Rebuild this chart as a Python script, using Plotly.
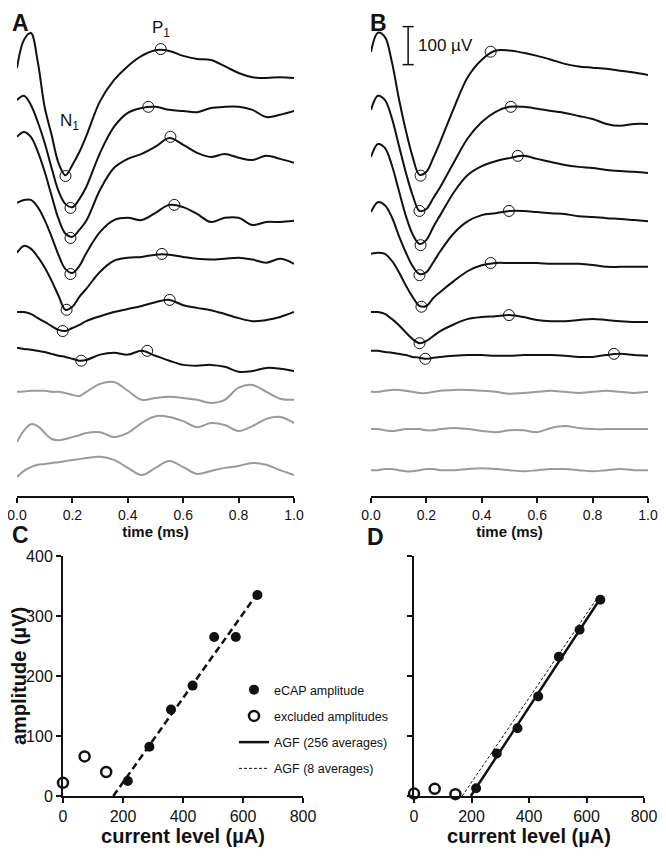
import numpy as np
import plotly.graph_objects as go

FONT = "Liberation Sans, Arial, Helvetica, sans-serif"
BLACK = "#111111"
GREY = "#9a9a9a"

# ---- sweeps (panels A and B) -------------------------------------------------
# common time base (ms); every sweep is given in µV relative to its first sample
T_MS = [0, 0.025, 0.05, 0.075, 0.1, 0.125, 0.15, 0.175, 0.2, 0.225, 0.25,
        0.3, 0.35, 0.4, 0.45, 0.5, 0.55, 0.6, 0.65, 0.7, 0.75, 0.8, 0.85, 0.9, 0.95, 1.0]

# panel A: 8 averages, one sweep per current level (µA), highest level on top
A_648 = [0, 74, 92, 16, -103, -176, -250, -282, -255, -221, -179, -87, -32, 5, 32, 47, 45, 32, 24, 21, 5, -13, -24, -26, -24, -26]
A_576 = [0, 11, -13, -58, -113, -179, -240, -274, -282, -261, -229, -139, -71, -34, -21, -18, -26, -29, -32, -21, -18, -18, -26, -45, -39, -29]
A_504 = [0, 13, 0, -39, -92, -155, -216, -255, -263, -245, -221, -139, -82, -58, -45, -26, -3, -21, -42, -53, -45, -55, -61, -50, -58, -68]
A_432 = [0, 8, 8, -11, -45, -89, -137, -174, -184, -166, -132, -76, -45, -39, -45, -26, -5, -11, -29, -50, -39, -39, -58, -50, -50, -47]
A_360 = [0, 18, 11, -11, -39, -74, -113, -150, -142, -116, -95, -50, -21, -13, -11, -5, -5, -11, -16, -18, -16, -13, -18, -26, -16, -29]
A_288 = [0, 0, -5, -16, -26, -37, -47, -50, -42, -34, -24, -11, 0, 8, 16, 26, 32, 18, 11, 5, -5, -16, -24, -21, -13, 0]
A_216 = [0, -3, -5, -8, -11, -16, -21, -24, -29, -34, -32, -18, -13, -18, -8, -21, -34, -45, -47, -45, -50, -63, -61, -53, -55, -61]
A_144 = [0, 1, 3, 3, 3, 0, 0, -3, -8, -11, 0, 21, 26, 3, -21, -16, -13, -16, -21, -29, -21, 11, 18, 0, -18, -21]
A_72 = [0, 30, 47, 42, 24, 8, 5, 8, 13, 18, 24, 26, 13, 24, 50, 68, 66, 55, 39, 50, 45, 29, 42, 61, 66, 50]
A_0 = [0, 16, 26, 32, 34, 37, 39, 42, 45, 47, 50, 53, 45, 24, 5, 24, 42, 26, 8, 16, 24, 29, 37, 32, 18, 5]
A_OFFSET_UV = [1126, 1042, 945, 771, 640, 484, 390, 274, 142, 50]

# panel B: 256 averages
B_648 = [0, 50, 39, -26, -121, -205, -276, -324, -316, -279, -237, -147, -66, -21, 3, 3, -3, -11, -21, -32, -39, -42, -45, -50, -55, -61]
B_576 = [0, 37, 26, -21, -92, -163, -224, -266, -261, -232, -203, -137, -74, -32, -5, 8, 8, 3, -3, -8, -16, -24, -37, -42, -37, -37]
B_504 = [0, 34, 24, -21, -87, -153, -203, -229, -218, -184, -153, -92, -47, -24, -11, -3, 3, -5, -13, -21, -26, -29, -34, -37, -39, -42]
B_432 = [0, 26, 18, -13, -61, -105, -142, -163, -158, -132, -103, -55, -24, -8, -3, 3, 3, 0, -3, -5, -11, -13, -16, -18, -21, -24]
B_360 = [0, 3, 0, -18, -47, -82, -113, -137, -137, -116, -100, -71, -45, -30, -24, -24, -24, -24, -26, -26, -26, -29, -34, -34, -34, -34]
B_288 = [0, 0, -5, -18, -34, -53, -71, -82, -76, -63, -50, -32, -18, -13, -11, -8, -13, -21, -24, -24, -21, -18, -21, -24, -26, -26]
B_216 = [0, 0, -3, -5, -8, -11, -16, -18, -21, -18, -16, -13, -11, -11, -13, -13, -11, -11, -11, -13, -16, -16, -11, -8, -11, -13]
B_144 = [0, 0, 3, 5, 5, 3, 0, -3, -3, 0, 3, 5, 5, 3, 0, -5, -3, 0, 3, 0, -3, 0, 3, 0, -3, 0]
B_72 = [0, 0, -3, -5, -3, 0, 0, 0, -3, -3, 0, 3, 0, -5, -8, -3, -3, -8, 3, 8, 3, 0, 0, 0, 0, 0]
B_0 = [0, 0, 3, 3, 0, -3, -3, 0, 3, 3, 0, 0, 3, 5, 3, 0, -3, 0, 3, 3, 0, -3, 0, 3, 0, 0]
B_OFFSET_UV = [1169, 1016, 892, 747, 637, 484, 382, 274, 176, 68]

# picked N1 / P1 (only for the seven sweeps with a response)
A_N1_MS = [0.175, 0.193, 0.193, 0.193, 0.179, 0.165, 0.232]
A_N1_UV = [-284, -284, -266, -187, -150, -50, -34]
A_P1_MS = [0.519, 0.474, 0.554, 0.568, 0.523, 0.551, 0.470]
A_P1_UV = [50, -18, 0, -5, -3, 32, -8]
B_N1_MS = [0.179, 0.175, 0.179, 0.175, 0.182, 0.175, 0.196]
B_N1_UV = [-326, -266, -232, -166, -139, -82, -21]
B_P1_MS = [0.432, 0.505, 0.530, 0.498, 0.432, 0.498, 0.877]
B_P1_UV = [0, 8, 3, 3, -24, -8, -8]

SCALE_BAR_UV = 100

# ---- amplitude growth functions (panels C and D) ------------------------------
CURRENT_UA = [0, 72, 144, 216, 288, 360, 432, 504, 576, 648]
AMP_8AVG_UV = [22, 66, 40, 25, 82, 144, 184, 265, 265, 335]
AMP_256AVG_UV = [4, 12, 3, 13, 71, 113, 166, 232, 277, 327]
N_EXCLUDED = 3

A_SWEEPS = [A_648, A_576, A_504, A_432, A_360, A_288, A_216, A_144, A_72, A_0]
B_SWEEPS = [B_648, B_576, B_504, B_432, B_360, B_288, B_216, B_144, B_72, B_0]

# the page body keeps an 8 px margin, so the figure sits at page pixel 8
PAGE_OFF = 8
W, H = 666 - 2 * PAGE_OFF, 856 - 2 * PAGE_OFF


def px_x(p):
    # page pixel -> paper fraction
    return (p - PAGE_OFF) / W


def px_y(p):
    return 1 - (p - PAGE_OFF) / H


fig = go.Figure()


def add_sweeps(sweeps, offsets, n1_t, n1_v, p1_t, p1_v, xa, ya):
    for i, (sw, off) in enumerate(zip(sweeps, offsets)):
        fig.add_trace(go.Scatter(
            x=T_MS, y=[v + off for v in sw], mode="lines",
            line=dict(color=BLACK if i < len(n1_t) else GREY, width=2,
                      shape="spline", smoothing=1),
            xaxis=xa, yaxis=ya, showlegend=False, hoverinfo="skip"))
    for ts, vs in ((n1_t, n1_v), (p1_t, p1_v)):
        fig.add_trace(go.Scatter(
            x=ts, y=[v + o for v, o in zip(vs, offsets)], mode="markers",
            marker=dict(symbol="circle-open", size=11, color=BLACK,
                        line=dict(width=1, color=BLACK)),
            xaxis=xa, yaxis=ya, showlegend=False, cliponaxis=False))


add_sweeps(A_SWEEPS, A_OFFSET_UV, A_N1_MS, A_N1_UV, A_P1_MS, A_P1_UV, "x", "y")
add_sweeps(B_SWEEPS, B_OFFSET_UV, B_N1_MS, B_N1_UV, B_P1_MS, B_P1_UV, "x2", "y2")

# ---- AGF fits ----------------------------------------------------------------
cur = np.array(CURRENT_UA, dtype=float)
a8 = np.array(AMP_8AVG_UV, dtype=float)
a256 = np.array(AMP_256AVG_UV, dtype=float)
inc = slice(N_EXCLUDED, None)
m8, b8 = np.polyfit(cur[inc], a8[inc], 1)
m256, b256 = np.polyfit(cur[inc], a256[inc], 1)
fit8_x = [-b8 / m8, cur.max()]
fit256_x = [-b256 / m256, cur.max()]

# panel C
fig.add_trace(go.Scatter(
    x=fit8_x, y=[m8 * v + b8 for v in fit8_x], mode="lines",
    line=dict(color=BLACK, width=2.5, dash="7px,4px"),
    xaxis="x3", yaxis="y3", showlegend=False))
fig.add_trace(go.Scatter(
    x=cur[inc], y=a8[inc], mode="markers", name="eCAP amplitude",
    marker=dict(symbol="circle", size=10, color=BLACK),
    xaxis="x3", yaxis="y3", cliponaxis=False, legendrank=1, legendgroup="g1"))
fig.add_trace(go.Scatter(
    x=cur[:N_EXCLUDED], y=a8[:N_EXCLUDED], mode="markers", name="excluded amplitudes",
    marker=dict(symbol="circle-open", size=10, color=BLACK, line=dict(width=2.5)),
    xaxis="x3", yaxis="y3", cliponaxis=False, legendrank=2, legendgroup="g2"))

# panel D
fig.add_trace(go.Scatter(
    x=fit256_x, y=[m256 * v + b256 for v in fit256_x], mode="lines",
    name="AGF (256 averages)", line=dict(color=BLACK, width=2.5),
    xaxis="x4", yaxis="y4", legendrank=3, legendgroup="g3"))
fig.add_trace(go.Scatter(
    x=fit8_x, y=[m8 * v + b8 for v in fit8_x], mode="lines",
    name="AGF (8 averages)", line=dict(color=BLACK, width=1, dash="3px,2px"),
    xaxis="x4", yaxis="y4", legendrank=4, legendgroup="g4"))
fig.add_trace(go.Scatter(
    x=cur[inc], y=a256[inc], mode="markers",
    marker=dict(symbol="circle", size=10, color=BLACK),
    xaxis="x4", yaxis="y4", cliponaxis=False, showlegend=False))
fig.add_trace(go.Scatter(
    x=cur[:N_EXCLUDED], y=a256[:N_EXCLUDED], mode="markers",
    marker=dict(symbol="circle-open", size=10, color=BLACK, line=dict(width=2.5)),
    xaxis="x4", yaxis="y4", cliponaxis=False, showlegend=False))

# ---- axes --------------------------------------------------------------------
axis_common = dict(showgrid=False, zeroline=False, showline=True, linecolor=BLACK,
                   linewidth=2, ticks="outside", ticklen=5, tickwidth=2,
                   tickcolor=BLACK, color=BLACK, automargin=False,
                   ticklabeloverflow="allow")
# 0.38 px per µV; the sweep area runs from page row 8 down to the axis at row 496
wave_y_rng = [0, 1284]
wave_x = dict(axis_common, range=[0, 1], tick0=0, dtick=0.2, tickformat=".1f",
              tickfont=dict(size=14, family=FONT),
              title=dict(text="time (ms)", standoff=3,
                         font=dict(size=15, family=FONT, weight="bold")))
agf_x = dict(axis_common, range=[0, 800], tick0=0, dtick=200,
             tickfont=dict(size=16, family=FONT),
             title=dict(text="current level (µA)", standoff=2,
                        font=dict(size=20, family=FONT, weight="bold")))
agf_y = dict(axis_common, range=[0, 400], tick0=0, dtick=100,
             tickfont=dict(size=16, family=FONT))

fig.update_layout(
    width=W, height=H, margin=dict(l=0, r=0, t=0, b=0, pad=0, autoexpand=False),
    paper_bgcolor="white", plot_bgcolor="white",
    font=dict(family=FONT, color=BLACK),
    xaxis=dict(wave_x, domain=[px_x(17), px_x(294)], anchor="y"),
    yaxis=dict(visible=False, range=wave_y_rng, domain=[px_y(496), 1], anchor="x"),
    xaxis2=dict(wave_x, domain=[px_x(371), px_x(648)], anchor="y2"),
    yaxis2=dict(visible=False, range=wave_y_rng, domain=[px_y(496), 1], anchor="x2"),
    xaxis3=dict(agf_x, domain=[px_x(63), px_x(303)], anchor="y3"),
    yaxis3=dict(agf_y, domain=[px_y(796), px_y(556)], anchor="x3",
                title=dict(text="amplitude (µV)", standoff=12,
                           font=dict(size=20, family=FONT, weight="bold"))),
    xaxis4=dict(agf_x, domain=[px_x(414), px_x(644)], anchor="y4"),
    yaxis4=dict(agf_y, domain=[px_y(796), px_y(556)], anchor="x4",
                showticklabels=False),
    showlegend=True,
    legend=dict(x=px_x(234), y=px_y(675), xanchor="left", yanchor="top",
                bgcolor="rgba(0,0,0,0)", borderwidth=0,
                font=dict(size=12.5, family=FONT, color=BLACK),
                traceorder="grouped", tracegroupgap=7),
)

# panel letters (page pixel centres), kept clear of the page edge
for letter, (lx, ly) in {"A": (20, 23), "B": (378, 23),
                         "C": (20, 535), "D": (375, 537)}.items():
    fig.add_annotation(x=px_x(lx), y=px_y(ly), xref="paper", yref="paper",
                       xanchor="center", yanchor="middle",
                       text=f"<b>{letter}</b>", showarrow=False,
                       font=dict(size=23, family=FONT, color=BLACK))

fig.add_annotation(x=0.19, y=985, xref="x", yref="y", text="N<sub>1</sub>",
                   showarrow=False, font=dict(size=17, family=FONT, color=BLACK))
fig.add_annotation(x=0.52, y=1230, xref="x", yref="y", text="P<sub>1</sub>",
                   showarrow=False, font=dict(size=17, family=FONT, color=BLACK))

# 100 µV scale bar in panel B
bar_x, bar_y0 = 0.134, 1135
fig.add_shape(type="line", xref="x2", yref="y2", x0=bar_x, x1=bar_x,
              y0=bar_y0, y1=bar_y0 + SCALE_BAR_UV, line=dict(color=BLACK, width=1.5))
for yy in (bar_y0, bar_y0 + SCALE_BAR_UV):
    fig.add_shape(type="line", xref="x2", yref="y2", x0=bar_x - 0.02, x1=bar_x + 0.02,
                  y0=yy, y1=yy, line=dict(color=BLACK, width=1.5))
fig.add_annotation(x=bar_x + 0.028, y=bar_y0 + SCALE_BAR_UV / 2, xref="x2", yref="y2",
                   text=f"{SCALE_BAR_UV} µV", showarrow=False, xanchor="left",
                   font=dict(size=17, family=FONT, color=BLACK))

fig.write_html("out.html")
